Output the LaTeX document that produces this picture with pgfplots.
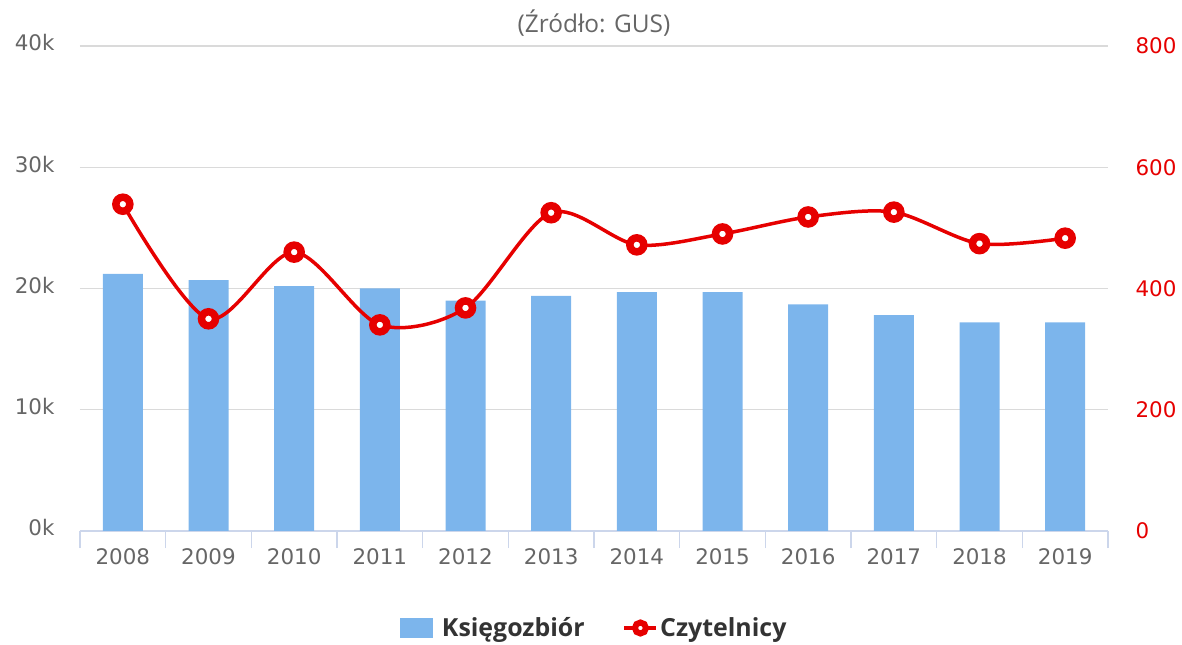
\documentclass[border=0pt]{standalone}
\usepackage{fontspec}
\setmainfont{Open Sans}
\newfontfamily\tickfont{DejaVu Sans}
\usepackage{pgfplots}
\pgfplotsset{compat=1.18}

\definecolor{barblue}{RGB}{124,181,236}
\definecolor{linered}{RGB}{230,0,0}
\definecolor{gridgray}{RGB}{218,218,218}
\definecolor{axisline}{RGB}{204,214,235}
\definecolor{ticktext}{RGB}{102,102,102}
\definecolor{legtext}{RGB}{51,51,51}

\begin{document}
\begin{tikzpicture}
  \path[use as bounding box] (-80bp,-114bp) rectangle (1102bp,531bp);
  \begin{axis}[
      scale only axis,
      width=1028bp, height=485bp,
      xmin=-0.5, xmax=11.5,
      ymin=0, ymax=40000,
      axis x line*=bottom,
      axis y line*=left,
      x axis line style={draw=axisline, line width=1.3bp, -},
      y axis line style={draw=none},
      xtick={0,...,11},
      xticklabels={2008,2009,2010,2011,2012,2013,2014,2015,2016,2017,2018,2019},
      minor xtick={-0.5,0.5,...,11.5},
      major tick length=0pt,
      minor tick length=17bp,
      tick align=outside,
      minor x tick style={draw=axisline, line width=1.3bp},
      ytick={0,10000,20000,30000,40000},
      yticklabels={0k,10k,20k,30k,40k},
      scaled y ticks=false,
      ymajorgrids,
      grid style={draw=gridgray, line width=1.3bp},
      /pgf/number format/assume math mode=true,
      xticklabel style={font=\tickfont\fontsize{21.5}{26}\selectfont, text=ticktext, yshift=-14bp},
      yticklabel style={font=\tickfont\fontsize{21.5}{26}\selectfont, text=ticktext, xshift=-22bp, yshift=3bp},
      title={(Źródło: GUS)},
      title style={font=\fontsize{24.5}{29}\selectfont, text=ticktext},
    ]
    \addplot[ybar, bar width=40bp, fill=barblue, draw=none] coordinates {
      (0,21200) (1,20700) (2,20200) (3,20000) (4,19000) (5,19400)
      (6,19700) (7,19700) (8,18700) (9,17800) (10,17200) (11,17200)
    };
  \end{axis}
  \begin{axis}[
      scale only axis,
      width=1028bp, height=485bp,
      xmin=-0.5, xmax=11.5,
      ymin=0, ymax=800,
      axis x line=none,
      axis y line*=right,
      y axis line style={draw=none},
      major tick length=0pt,
      ytick={0,200,400,600,800},
      /pgf/number format/assume math mode=true,
      yticklabel style={font=\tickfont\fontsize{21.5}{26}\selectfont, text=linered, xshift=24bp},
      legend style={at={(0.5,-0.2)}, anchor=center, draw=none, fill=none,
        legend columns=2,
        font=\fontsize{25}{29}\selectfont\bfseries, text=legtext,
        /tikz/every even column/.append style={column sep=36bp}},
    ]
    \addlegendimage{legend image code/.code={
        \fill[barblue] (0bp,-9.5bp) rectangle (32bp,9.5bp);
        \path (40bp,0bp);}}
    \addlegendimage{legend image code/.code={
        \draw[linered, line width=3.5bp] (0bp,0bp) -- (32bp,0bp);
        \draw[linered, line width=6bp, fill=white] (16bp,0bp) circle (5.5bp);}}
    \addplot[forget plot, smooth, tension=0.5, color=linered, line width=3.5bp,
      mark=*, mark size=7bp,
      mark options={fill=white, draw=linered, line width=7.5bp}] coordinates {
      (0,539) (1,350) (2,460) (3,340) (4,368) (5,525)
      (6,472) (7,490) (8,518) (9,526) (10,474) (11,483)
    };
    \legend{Księgozbiór, Czytelnicy}
  \end{axis}
\end{tikzpicture}
\end{document}
